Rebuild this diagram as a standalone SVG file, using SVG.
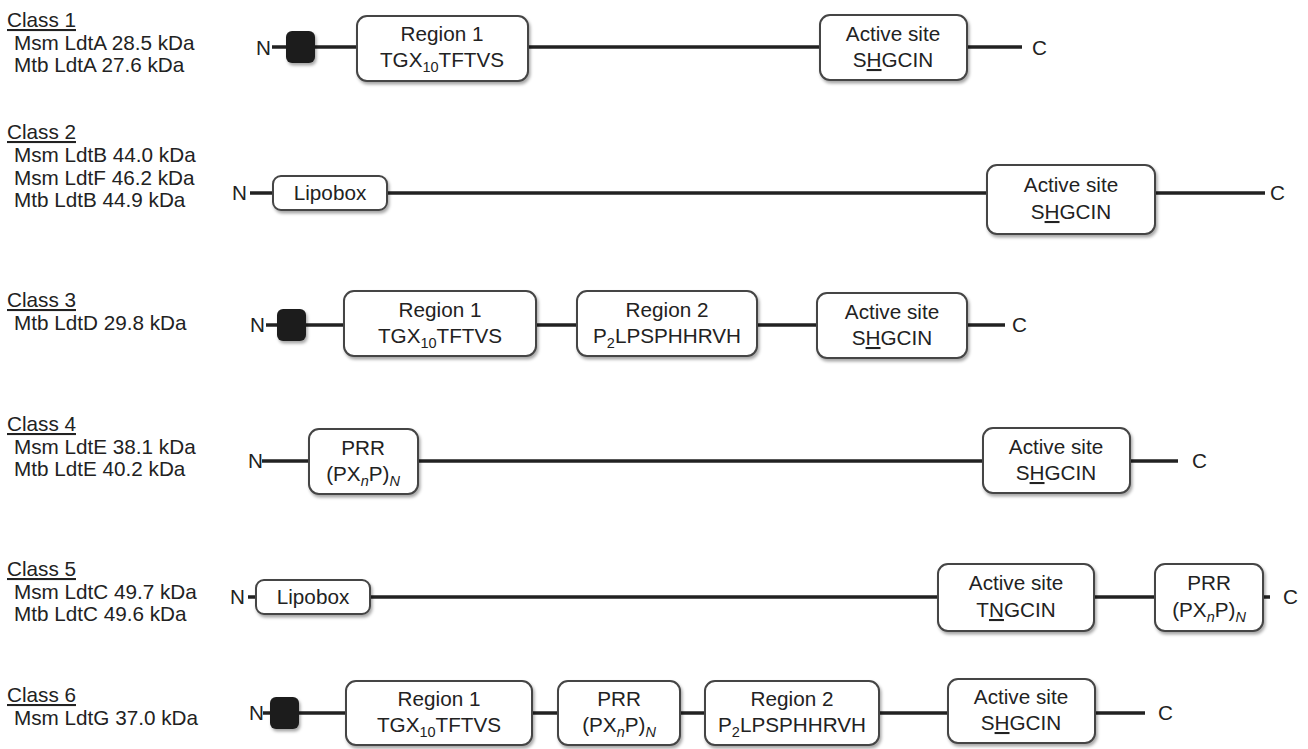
<svg xmlns="http://www.w3.org/2000/svg" width="1308" height="749" viewBox="0 0 1308 749">
<style>
text{font-family:"Liberation Sans",Arial,sans-serif;font-size:20.7px;fill:#222}
.c{text-anchor:middle}
.u{text-decoration:underline}
.box{fill:#fff;stroke:#444;stroke-width:2}
.sq{fill:#1e1e1e}
.ln{stroke:#222;stroke-width:3.5;fill:none}
.sub{font-size:14.5px}
</style>
<defs>
<filter id="sh" x="-10%" y="-10%" width="130%" height="140%">
<feDropShadow dx="1.5" dy="2.5" stdDeviation="1.5" flood-color="#000" flood-opacity="0.35"/>
</filter>
</defs>
<g id="labels">
<text x="7" y="27" class="u">Class 1</text>
<text x="14" y="50">Msm LdtA 28.5 kDa</text>
<text x="14" y="72">Mtb LdtA 27.6 kDa</text>
<text x="7" y="139" class="u">Class 2</text>
<text x="14" y="162">Msm LdtB 44.0 kDa</text>
<text x="14" y="185">Msm LdtF 46.2 kDa</text>
<text x="14" y="207">Mtb LdtB 44.9 kDa</text>
<text x="7" y="307" class="u">Class 3</text>
<text x="14" y="330">Mtb LdtD 29.8 kDa</text>
<text x="7" y="431" class="u">Class 4</text>
<text x="14" y="454">Msm LdtE 38.1 kDa</text>
<text x="14" y="476">Mtb LdtE 40.2 kDa</text>
<text x="7" y="576" class="u">Class 5</text>
<text x="14" y="599">Msm LdtC 49.7 kDa</text>
<text x="14" y="621">Mtb LdtC 49.6 kDa</text>
<text x="7" y="702" class="u">Class 6</text>
<text x="14" y="725">Msm LdtG 37.0 kDa</text>
</g>
<g id="connectors">
<line class="ln" x1="272" y1="47" x2="1022" y2="47"/>
<line class="ln" x1="250" y1="193" x2="1265" y2="193"/>
<line class="ln" x1="266" y1="325" x2="1005" y2="325"/>
<line class="ln" x1="262" y1="461" x2="1178" y2="461"/>
<line class="ln" x1="248" y1="597" x2="1270" y2="597"/>
<line class="ln" x1="263" y1="713" x2="1145" y2="713"/>
</g>
<g id="row1">
<text x="256" y="55">N</text>
<rect class="sq" x="286" y="31" width="29" height="32" rx="6" filter="url(#sh)"/>
<g id="r1-region1"><rect class="box" x="357" y="16" width="171" height="65" rx="10" filter="url(#sh)"/>
<text class="c" x="442" y="41">Region 1</text>
<text class="c" x="442" y="67">TGX<tspan class="sub" dy="5">10</tspan><tspan dy="-5">TFTVS</tspan></text></g>
<g id="r1-active"><rect class="box" x="820" y="15" width="147" height="65" rx="10" filter="url(#sh)"/>
<text class="c" x="893" y="41">Active site</text>
<text class="c" x="893" y="67">S<tspan class="u">H</tspan>GCIN</text></g>
<text x="1032" y="55">C</text>
</g>
<g id="row2">
<text x="232" y="200">N</text>
<g id="r2-lipobox"><rect class="box" x="273" y="176" width="114" height="34" rx="8" filter="url(#sh)"/>
<text class="c" x="330" y="200">Lipobox</text></g>
<g id="r2-active"><rect class="box" x="987" y="165" width="168" height="69" rx="10" filter="url(#sh)"/>
<text class="c" x="1071" y="192">Active site</text>
<text class="c" x="1071" y="219">S<tspan class="u">H</tspan>GCIN</text></g>
<text x="1270" y="200">C</text>
</g>
<g id="row3">
<text x="250" y="332">N</text>
<rect class="sq" x="277" y="309" width="29" height="32" rx="6" filter="url(#sh)"/>
<g id="r3-region1"><rect class="box" x="344" y="291" width="192" height="65" rx="10" filter="url(#sh)"/>
<text class="c" x="440" y="317">Region 1</text>
<text class="c" x="440" y="343">TGX<tspan class="sub" dy="5">10</tspan><tspan dy="-5">TFTVS</tspan></text></g>
<g id="r3-region2"><rect class="box" x="577" y="291" width="180" height="65" rx="10" filter="url(#sh)"/>
<text class="c" x="667" y="317">Region 2</text>
<text class="c" x="667" y="343">P<tspan class="sub" dy="5">2</tspan><tspan dy="-5">LPSPHHRVH</tspan></text></g>
<g id="r3-active"><rect class="box" x="817" y="293" width="150" height="65" rx="10" filter="url(#sh)"/>
<text class="c" x="892" y="319">Active site</text>
<text class="c" x="892" y="345">S<tspan class="u">H</tspan>GCIN</text></g>
<text x="1012" y="332">C</text>
</g>
<g id="row4">
<text x="248" y="468">N</text>
<g id="r4-prr"><rect class="box" x="309" y="429" width="109" height="65" rx="10" filter="url(#sh)"/>
<text class="c" x="363" y="455">PRR</text>
<text class="c" x="363" y="481">(PX<tspan class="sub" dy="5" font-style="italic">n</tspan><tspan dy="-5">P)</tspan><tspan class="sub" dy="5" font-style="italic">N</tspan></text></g>
<g id="r4-active"><rect class="box" x="983" y="428" width="147" height="65" rx="10" filter="url(#sh)"/>
<text class="c" x="1056" y="454">Active site</text>
<text class="c" x="1056" y="480">S<tspan class="u">H</tspan>GCIN</text></g>
<text x="1192" y="468">C</text>
</g>
<g id="row5">
<text x="230" y="604">N</text>
<g id="r5-lipobox"><rect class="box" x="256" y="580" width="114" height="34" rx="8" filter="url(#sh)"/>
<text class="c" x="313" y="604">Lipobox</text></g>
<g id="r5-active"><rect class="box" x="938" y="564" width="156" height="67" rx="10" filter="url(#sh)"/>
<text class="c" x="1016" y="590">Active site</text>
<text class="c" x="1016" y="617">T<tspan class="u">N</tspan>GCIN</text></g>
<g id="r5-prr"><rect class="box" x="1155" y="564" width="108" height="67" rx="10" filter="url(#sh)"/>
<text class="c" x="1209" y="590">PRR</text>
<text class="c" x="1209" y="617">(PX<tspan class="sub" dy="5" font-style="italic">n</tspan><tspan dy="-5">P)</tspan><tspan class="sub" dy="5" font-style="italic">N</tspan></text></g>
<text x="1283" y="604">C</text>
</g>
<g id="row6">
<text x="249" y="720">N</text>
<rect class="sq" x="270" y="697" width="29" height="32" rx="6" filter="url(#sh)"/>
<g id="r6-region1"><rect class="box" x="346" y="681" width="186" height="64" rx="10" filter="url(#sh)"/>
<text class="c" x="439" y="706">Region 1</text>
<text class="c" x="439" y="732">TGX<tspan class="sub" dy="5">10</tspan><tspan dy="-5">TFTVS</tspan></text></g>
<g id="r6-prr"><rect class="box" x="558" y="681" width="122" height="64" rx="10" filter="url(#sh)"/>
<text class="c" x="619" y="706">PRR</text>
<text class="c" x="619" y="732">(PX<tspan class="sub" dy="5" font-style="italic">n</tspan><tspan dy="-5">P)</tspan><tspan class="sub" dy="5" font-style="italic">N</tspan></text></g>
<g id="r6-region2"><rect class="box" x="705" y="681" width="174" height="64" rx="10" filter="url(#sh)"/>
<text class="c" x="792" y="706">Region 2</text>
<text class="c" x="792" y="732">P<tspan class="sub" dy="5">2</tspan><tspan dy="-5">LPSPHHRVH</tspan></text></g>
<g id="r6-active"><rect class="box" x="948" y="679" width="147" height="64" rx="10" filter="url(#sh)"/>
<text class="c" x="1021" y="704">Active site</text>
<text class="c" x="1021" y="730">S<tspan class="u">H</tspan>GCIN</text></g>
<text x="1158" y="720">C</text>
</g>
</svg>
